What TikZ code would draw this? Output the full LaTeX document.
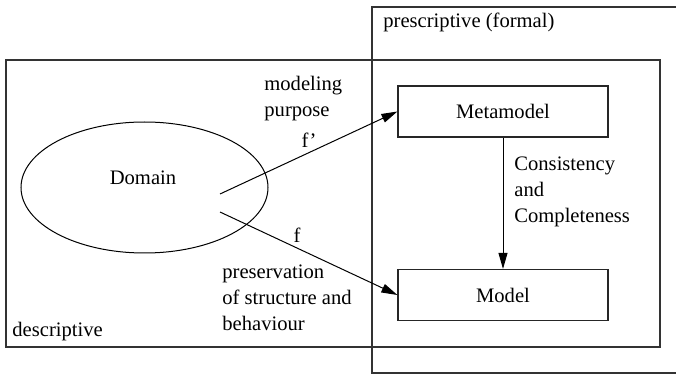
\documentclass[tikz,border=0pt]{standalone}
\usepackage{fontspec}
\setmainfont{Liberation Serif}
\usetikzlibrary{arrows.meta,shapes.geometric}

\tikzset{
  frame/.style={draw=black!80, line width=0.6pt},
  modelbox/.style={draw=black!85, line width=0.6pt, minimum width=105pt,
    minimum height=25.5pt, inner sep=0pt, font=\txt},
  lbl/.style={inner sep=0pt, font=\txt, align=left},
  link/.style={draw, line width=0.5pt, -{Triangle[length=8pt,width=4.5pt]}},
}
\newcommand{\txt}{\fontsize{10.3pt}{13pt}\selectfont}

\begin{document}
\begin{tikzpicture}[x=0.5pt, y=-0.5pt]
  \useasboundingbox (0,0) rectangle (676,374);
  \clip (0,0) rectangle (676,374);

  % the two overlapping regions
  \draw[frame] (372,7) rectangle (700,373);
  \draw[frame] (6,60) rectangle (660,347);
  \node[lbl, anchor=west] (presc) at (383,22) {prescriptive (formal)};
  \node[lbl, anchor=west] (desc) at (12,332) {descriptive};

  % domain
  \node[draw, line width=0.5pt, ellipse, minimum width=123.5pt,
        minimum height=65.5pt, inner sep=0pt] (dom) at (144.5,187.5) {};
  \node[lbl] (domlbl) at (143,178) {Domain};

  % formal artefacts
  \node[modelbox] (meta) at (503,111.5) {Metamodel};
  \node[modelbox] (model) at (503,295) {Model};

  % mappings
  \coordinate (fp0) at (220,194);
  \coordinate (f0) at (220,212);
  \draw[link] (fp0) -- (meta.west);
  \draw[link] (f0) -- (model.west);
  \draw[link] (meta.south) -- (model.north);

  % annotations
  \node[lbl, anchor=west] (purp) at (264,98.5) {modeling\\purpose};
  \node[lbl] (fprime) at (309,140) {f’};
  \node[lbl] (fmap) at (297,235) {f};
  \node[lbl, anchor=west] (pres) at (222,298)
    {preservation\\of structure and\\behaviour};
  \node[lbl, anchor=west] (cons) at (514,192)
    {Consistency\\and\\Completeness};
\end{tikzpicture}
\end{document}
